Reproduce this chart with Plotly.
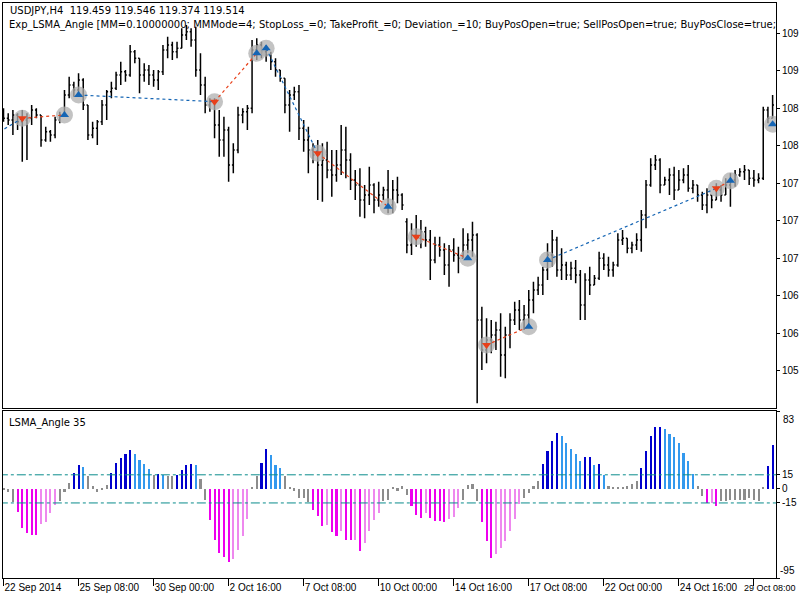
import plotly.graph_objects as go

# ---------------- data ----------------
bar_index = list(range(165))

open_ = [108.72,108.68,108.66,108.72,108.64,108.66,108.68,108.78,108.72,108.42,
         108.52,108.48,108.66,108.72,108.96,109.08,109.02,109.14,108.84,108.48,
         108.56,108.64,108.84,109.00,109.04,109.20,109.24,109.20,109.48,109.40,
         109.20,109.26,109.20,109.14,109.24,109.50,109.56,109.48,109.52,109.68,
         109.72,109.62,109.26,109.08,108.84,108.88,108.60,108.42,108.54,108.12,
         108.30,108.72,108.76,108.80,109.50,109.56,109.48,109.44,109.36,109.26,
         109.16,108.84,108.96,109.00,108.56,108.42,108.30,108.24,108.12,108.18,
         108.06,108.00,108.12,108.30,108.18,107.94,107.88,107.70,107.76,107.88,
         107.70,107.76,107.82,107.64,107.82,107.76,107.44,107.16,107.28,107.24,
         107.32,107.22,106.98,107.16,107.10,106.92,107.10,107.04,107.00,107.16,
         107.22,107.28,106.26,105.90,106.02,106.08,106.14,105.84,106.08,106.26,
         106.38,106.26,106.32,106.50,106.62,106.68,106.86,107.04,107.22,106.86,
         106.92,106.80,106.88,106.80,106.44,106.74,106.68,106.76,107.00,106.92,
         106.86,106.92,107.22,107.24,107.12,107.16,107.22,107.52,107.88,108.12,
         108.18,107.88,107.94,108.00,107.82,107.94,108.00,107.84,107.88,107.76,
         107.64,107.76,107.70,107.82,107.76,107.88,107.94,108.00,108.04,108.06,
         107.96,107.94,107.96,108.78,108.68]
high = [108.80,108.74,108.78,108.74,108.78,108.74,108.84,108.80,108.72,108.58,
        108.54,108.70,108.76,109.02,109.18,109.12,109.22,109.16,108.84,108.64,
        108.66,108.90,109.02,109.12,109.24,109.36,109.26,109.56,109.50,109.40,
        109.34,109.32,109.26,109.26,109.56,109.66,109.60,109.60,109.76,109.80,
        109.76,109.78,109.46,109.18,108.92,108.92,108.78,108.70,108.58,108.38,
        108.82,108.80,108.84,109.62,109.64,109.60,109.56,109.48,109.40,109.26,
        109.16,109.02,109.06,109.08,108.66,108.58,108.38,108.42,108.38,108.40,
        108.30,108.30,108.60,108.58,108.26,108.06,108.08,107.88,108.10,107.90,
        107.92,107.86,108.06,107.94,107.98,107.78,107.48,107.42,107.52,107.46,
        107.38,107.34,107.26,107.26,107.18,107.16,107.24,107.14,107.36,107.30,
        107.44,107.30,106.42,106.28,106.26,106.24,106.34,106.18,106.34,106.48,
        106.50,106.44,106.62,106.72,106.78,106.90,107.18,107.34,107.26,107.12,
        106.96,106.96,106.98,106.86,106.82,106.90,106.80,107.08,107.06,107.02,
        106.96,107.30,107.34,107.24,107.20,107.30,107.58,107.94,108.20,108.24,
        108.20,107.98,108.08,108.10,108.06,108.08,108.12,107.94,107.88,107.80,
        107.84,107.76,107.90,107.88,107.96,108.02,108.06,108.08,108.12,108.06,
        108.06,108.02,108.82,108.82,108.96]
low = [108.64,108.60,108.48,108.54,108.16,108.18,108.60,108.68,108.34,108.40,
       108.40,108.44,108.62,108.70,108.92,108.94,108.96,108.78,108.42,108.44,
       108.36,108.60,108.66,108.92,109.02,109.08,109.12,109.18,109.34,108.98,
       109.12,109.08,109.06,109.02,109.20,109.40,109.38,109.40,109.52,109.62,
       109.54,109.18,108.96,108.74,108.76,108.44,108.22,108.22,107.92,108.02,
       108.26,108.62,108.54,108.74,109.38,109.40,109.36,109.26,109.18,109.12,
       108.74,108.52,108.90,108.42,108.28,108.02,108.14,107.70,107.68,107.96,
       107.74,107.92,108.00,107.96,107.82,107.70,107.50,107.48,107.64,107.54,
       107.62,107.70,107.54,107.54,107.66,107.58,107.06,107.04,107.14,107.12,
       107.14,106.74,106.94,107.02,106.80,106.66,106.96,106.82,107.00,107.06,
       107.02,105.26,105.66,105.74,105.86,105.90,105.58,105.56,105.92,106.20,
       106.14,106.14,106.16,106.34,106.56,106.56,106.74,106.90,106.78,106.74,
       106.74,106.74,106.70,106.26,106.26,106.56,106.68,106.74,106.86,106.78,
       106.78,106.90,107.16,107.06,107.06,107.10,107.08,107.36,107.86,108.06,
       107.78,107.88,107.76,107.70,107.82,107.90,107.80,107.78,107.68,107.58,
       107.54,107.60,107.70,107.68,107.76,107.62,107.86,107.98,107.94,107.88,
       107.86,107.90,107.94,108.62,108.68]
close = [108.68,108.66,108.72,108.64,108.66,108.68,108.78,108.72,108.42,108.52,
         108.48,108.66,108.72,108.96,109.08,109.02,109.14,108.84,108.48,108.56,
         108.64,108.84,109.00,109.04,109.20,109.24,109.20,109.48,109.40,109.20,
         109.26,109.20,109.14,109.24,109.50,109.56,109.48,109.52,109.68,109.72,
         109.62,109.26,109.08,108.84,108.88,108.60,108.42,108.54,108.12,108.30,
         108.72,108.76,108.80,109.50,109.56,109.48,109.44,109.36,109.26,109.16,
         108.84,108.96,109.00,108.56,108.42,108.30,108.24,108.12,108.18,108.06,
         108.00,108.12,108.30,108.18,107.94,107.88,107.70,107.76,107.88,107.70,
         107.76,107.82,107.64,107.82,107.76,107.64,107.16,107.28,107.24,107.32,
         107.22,106.98,107.16,107.10,106.92,107.10,107.04,107.00,107.16,107.22,
         107.28,106.26,105.90,106.02,106.08,106.14,105.84,106.08,106.26,106.38,
         106.26,106.32,106.50,106.62,106.68,106.86,107.04,107.22,106.86,106.92,
         106.80,106.88,106.80,106.44,106.74,106.68,106.76,107.00,106.92,106.86,
         106.92,107.22,107.24,107.12,107.16,107.22,107.52,107.88,108.12,108.18,
         107.88,107.94,108.00,107.82,107.94,108.00,107.84,107.88,107.76,107.64,
         107.76,107.70,107.82,107.76,107.88,107.94,108.00,108.04,108.06,107.96,
         107.94,107.96,108.78,108.68,108.84]

# LSMA angle histogram values and colour state
# U = rising above +15, u = falling above +15, D = falling below -15, d = rising below -15, n = neutral
angle = [-1,-3,-14,-25,-42,-47,-49,-49,-37,-35,
         -26,-17,-13,-3,6,17,25,23,14,3,
         -3,-1,4,17,28,33,37,41,37,31,
         26,21,15,16,15,14,14,15,20,25,
         26,25,10,-12,-33,-55,-68,-73,-78,-75,
         -65,-50,-32,1,14,28,42,36,25,22,
         14,1,-2,-10,-10,-14,-23,-29,-40,-38,
         -46,-50,-45,-55,-55,-55,-66,-58,-45,-33,
         -26,-13,-12,2,-2,3,-7,-18,-28,-31,
         -26,-31,-34,-34,-35,-32,-30,-20,-12,4,
         5,-13,-35,-56,-74,-69,-63,-56,-45,-32,
         -16,-10,-4,3,8,27,40,51,60,56,
         49,42,37,30,34,34,25,27,15,3,
         1,1,1,3,5,8,22,40,56,66,
         66,64,58,55,49,38,30,16,3,-8,
         -15,-15,-18,-13,-13,-12,-12,-12,-12,-10,
         -12,-13,2,24,47]
state = list("nnnDDDDDdd" "ddnnnUUunn" "nnnUUUUUuu" "uunUunnUUU"
             "Uunn" "DDDDDd" "dddnnUUuuu" "nnnnnnDDDd"
             "DDdDDdDddd" "dnnnnnnDDD" "dDDDDdddnn" "nnDDDddddd"
             "dnnnnUUUUu" "uuuuUUuUun" "nnnnnnUUUU" "Uuuuuuuunn"
             "DdDnnnnnnn" "nnnUU")

date_ticks = [0, 16, 32, 48, 64, 80, 96, 112, 128, 144, 160]
date_labels = ["22 Sep 2014", "25 Sep 08:00", "30 Sep 00:00", "2 Oct 16:00",
               "7 Oct 08:00", "10 Oct 00:00", "14 Oct 16:00", "17 Oct 08:00",
               "22 Oct 00:00", "24 Oct 16:00", "29 Oct 08:00"]

price_ticks = [109.70, 109.25, 108.80, 108.35, 107.90, 107.45, 107.00, 106.55, 106.10, 105.65]
price_labels = ["109", "109", "108", "108", "107", "107", "107", "106", "106", "105"]

# trade signals (bar index, price, side)
sig_index = [4, 13, 16, 45, 54, 56, 67, 82, 88, 99, 103, 112, 116, 152, 155, 164]
sig_price = [108.68, 108.72, 108.96, 108.88, 109.46, 109.52, 108.26, 107.62,
             107.26, 107.00, 105.96, 106.18, 106.98, 107.84, 107.93, 108.61]
sig_side = ["sell", "buy", "buy", "sell", "buy", "buy", "sell", "buy",
            "sell", "buy", "sell", "buy", "buy", "sell", "buy", "buy"]

# positions (open bar, open price, close bar, close price, side)
pos_open_i = [-2, 4, 16, 45, 56, 67, 88, 103, 116, 152]
pos_open_p = [108.48, 108.68, 108.96, 108.88, 109.52, 108.26, 107.26, 105.96, 106.98, 107.84]
pos_close_i = [4, 13, 45, 54, 67, 82, 99, 112, 152, 155]
pos_close_p = [108.68, 108.72, 108.88, 109.46, 108.26, 107.62, 107.00, 106.18, 107.84, 107.93]
pos_side = ["buy", "sell", "buy", "sell", "buy", "sell", "sell", "sell", "buy", "sell"]

# ---------------- styling ----------------
FONT = "DejaVu Sans"
AXFONT = "Liberation Sans"
state_color = {"U": "#0000cd", "u": "#3399ee", "D": "#ee00ee", "d": "#ee88ee", "n": "#8c8c8c"}
side_color = {"buy": "#1565b4", "sell": "#e8401a"}

fig = go.Figure()

# grey halo circles of the signals
fig.add_trace(go.Scatter(
    x=sig_index, y=sig_price, mode="markers", xaxis="x2", yaxis="y",
    marker=dict(size=17, color="rgba(175,175,175,0.75)", line=dict(width=0)),
    hoverinfo="skip", showlegend=False))

fig.add_trace(go.Ohlc(
    x=bar_index, open=open_, high=high, low=low, close=close,
    xaxis="x2", yaxis="y", tickwidth=0.3,
    increasing=dict(line=dict(color="black", width=1.5)),
    decreasing=dict(line=dict(color="black", width=1.5)),
    showlegend=False))

for i0, p0, i1, p1, s in zip(pos_open_i, pos_open_p, pos_close_i, pos_close_p, pos_side):
    fig.add_trace(go.Scatter(
        x=[i0, i1], y=[p0, p1], mode="lines", xaxis="x2", yaxis="y",
        line=dict(color=side_color[s], width=1.2, dash="3px,3px"),
        hoverinfo="skip", showlegend=False))

for s, sym in (("buy", "triangle-up"), ("sell", "triangle-down")):
    xs = [i for i, sd in zip(sig_index, sig_side) if sd == s]
    ys = [p for p, sd in zip(sig_price, sig_side) if sd == s]
    fig.add_trace(go.Scatter(
        x=xs, y=ys, mode="markers", xaxis="x2", yaxis="y",
        marker=dict(symbol=sym, size=8, color=side_color[s], line=dict(width=0)),
        hoverinfo="skip", showlegend=False))

# histogram
fig.add_trace(go.Bar(
    x=bar_index, y=angle, xaxis="x", yaxis="y2", width=0.45,
    marker=dict(color=[state_color[c] for c in state], line=dict(width=0)),
    showlegend=False))

for lvl in (15, -15):
    fig.add_trace(go.Scatter(
        x=[-1, 166], y=[lvl, lvl], mode="lines", xaxis="x", yaxis="y2",
        line=dict(color="#0a8c8c", width=1, dash="dashdot"),
        hoverinfo="skip", showlegend=False))

xr = [-0.11, 164.72]
axis_common = dict(showgrid=False, zeroline=False, showline=True, mirror=True,
                   linecolor="black", linewidth=1, automargin=False)

# last date label is placed so that it stays inside the page
shown_dates = date_labels[:-1] + [""]

annotations = [
    dict(text="USDJPY,H4&nbsp;&nbsp;119.459 119.546 119.374 119.514", xref="paper", yref="paper",
         x=0.0065, y=0.9878, xanchor="left", yanchor="middle", showarrow=False,
         font=dict(size=10)),
    dict(text="Exp_LSMA_Angle [MM=0.10000000; MMMode=4; StopLoss_=0; TakeProfit_=0; "
              "Deviation_=10; BuyPosOpen=true; SellPosOpen=true; BuyPosClose=true;",
         xref="paper", yref="paper", x=0.0055, y=0.9617, xanchor="left",
         yanchor="middle", showarrow=False, font=dict(size=10)),
    dict(text="LSMA_Angle 35", xref="paper", yref="paper", x=0.0052, y=0.2696,
         xanchor="left", yanchor="middle", showarrow=False, font=dict(size=10)),
    dict(text="83", xref="paper", yref="paper", x=1.006, y=0.2765,
         xanchor="left", yanchor="middle", showarrow=False,
         font=dict(family=AXFONT, size=10)),
    dict(text="-95", xref="paper", yref="paper", x=1.003, y=0.0122,
         xanchor="left", yanchor="middle", showarrow=False,
         font=dict(family=AXFONT, size=10)),
    dict(text=date_labels[-1], xref="paper", yref="paper", x=1.029, y=-0.005,
         xanchor="right", yanchor="top", showarrow=False,
         font=dict(family=AXFONT, size=9)),
]

fig.update_layout(
    width=800, height=600,
    margin=dict(l=3, r=24, t=3, b=22),
    paper_bgcolor="white", plot_bgcolor="white",
    font=dict(family=FONT, size=10, color="black"),
    bargap=0,
    xaxis=dict(domain=[0, 1], anchor="y2", range=xr, **axis_common,
               tickmode="array", tickvals=date_ticks, ticktext=shown_dates,
               ticks="outside", ticklen=7, tickcolor="black", tickangle=0,
               ticklabelposition="outside right",
               tickfont=dict(family=AXFONT, size=10), rangeslider=dict(visible=False)),
    xaxis2=dict(domain=[0, 1], anchor="y", range=xr, matches="x", **axis_common,
                showticklabels=False, ticks="", rangeslider=dict(visible=False)),
    yaxis=dict(domain=[0.29565, 1], anchor="x2", side="right", range=[105.204, 110.064],
               **axis_common, tickmode="array", tickvals=price_ticks, ticktext=price_labels,
               ticks="outside", ticklen=3, tickcolor="black",
               tickfont=dict(family=AXFONT, size=10)),
    yaxis2=dict(domain=[0, 0.29043], anchor="x", side="right", range=[-95, 83],
                **axis_common, tickmode="array", tickvals=[83, 15, 0, -15, -95],
                ticktext=["", "15", "0", "-15", ""], ticks="outside", ticklen=3,
                tickcolor="black", tickfont=dict(family=AXFONT, size=10)),
    annotations=annotations,
)

fig.write_html("out.html", config={"displayModeBar": False})
